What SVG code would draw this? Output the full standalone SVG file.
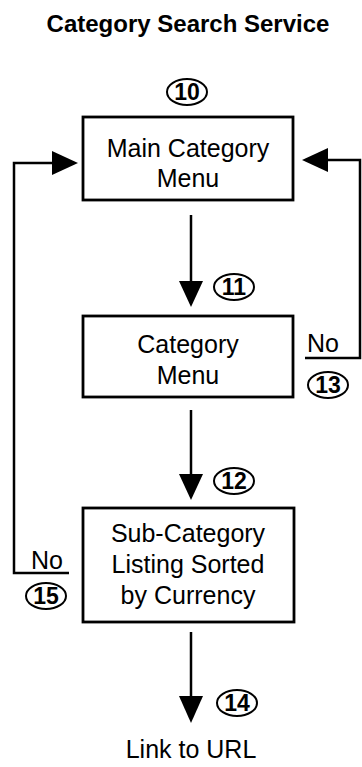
<svg xmlns="http://www.w3.org/2000/svg" width="362" height="767" viewBox="0 0 362 767">
<defs>
<style>
.box{fill:#fff;stroke:#000;stroke-width:2.8}
.t{font-family:"Liberation Sans",Arial,sans-serif;font-size:25px;fill:#000;text-anchor:middle}
.title{font-family:"Liberation Sans",Arial,sans-serif;font-size:24px;font-weight:bold;fill:#000;text-anchor:middle}
.num{font-family:"Liberation Sans",Arial,sans-serif;font-size:23px;font-weight:bold;fill:#000;text-anchor:middle}
.ring{fill:none;stroke:#000;stroke-width:2}
.ln{fill:none;stroke:#000;stroke-width:2.5}
</style>
</defs>
<rect width="362" height="767" fill="#fff"/>
<text class="title" x="188" y="32">Category Search Service</text>

<g id="connectors">
<path class="ln" d="M191,215 V282"/>
<path d="M179,281 L203,281 L191,307 Z"/>
<path class="ln" d="M191,410 V475"/>
<path d="M179,474 L203,474 L191,500 Z"/>
<path class="ln" d="M191,632 V697"/>
<path d="M179,696 L203,696 L191,723 Z"/>
<path class="ln" d="M305,358 H360 V160 H328"/>
<path d="M328,148 L328,172 L302,160 Z"/>
<path class="ln" d="M69,573 H14 V163 H52"/>
<path d="M52,151 L52,175 L78,163 Z"/>
<text class="t" x="323" y="352">No</text>
<text class="t" x="47" y="569">No</text>
</g>

<g id="n10">
<ellipse class="ring" cx="187" cy="92" rx="20" ry="13"/>
<text class="num" x="187" y="100">10</text>
</g>
<g id="main">
<rect class="box" x="83" y="117" width="210" height="83"/>
<text class="t" x="188" y="157">Main Category</text>
<text class="t" x="188" y="187">Menu</text>
</g>
<g id="n11">
<ellipse class="ring" cx="234" cy="287" rx="20" ry="13"/>
<text class="num" x="234" y="295">11</text>
</g>
<g id="cat">
<rect class="box" x="83" y="316" width="210" height="81"/>
<text class="t" x="188" y="353">Category</text>
<text class="t" x="188" y="384">Menu</text>
</g>
<g id="n13">
<ellipse class="ring" cx="328" cy="385" rx="20" ry="13"/>
<text class="num" x="328" y="393">13</text>
</g>
<g id="n12">
<ellipse class="ring" cx="234" cy="481" rx="20" ry="13"/>
<text class="num" x="234" y="489">12</text>
</g>
<g id="sub">
<rect class="box" x="83" y="508" width="211" height="114"/>
<text class="t" x="188" y="542">Sub-Category</text>
<text class="t" x="188" y="573">Listing Sorted</text>
<text class="t" x="188" y="604">by Currency</text>
</g>
<g id="n15">
<ellipse class="ring" cx="46" cy="596" rx="20" ry="13"/>
<text class="num" x="46" y="604">15</text>
</g>
<g id="n14">
<ellipse class="ring" cx="237" cy="703" rx="20" ry="13"/>
<text class="num" x="237" y="711">14</text>
</g>
<g id="link">
<text class="t" x="191" y="758">Link to URL</text>
</g>
</svg>
